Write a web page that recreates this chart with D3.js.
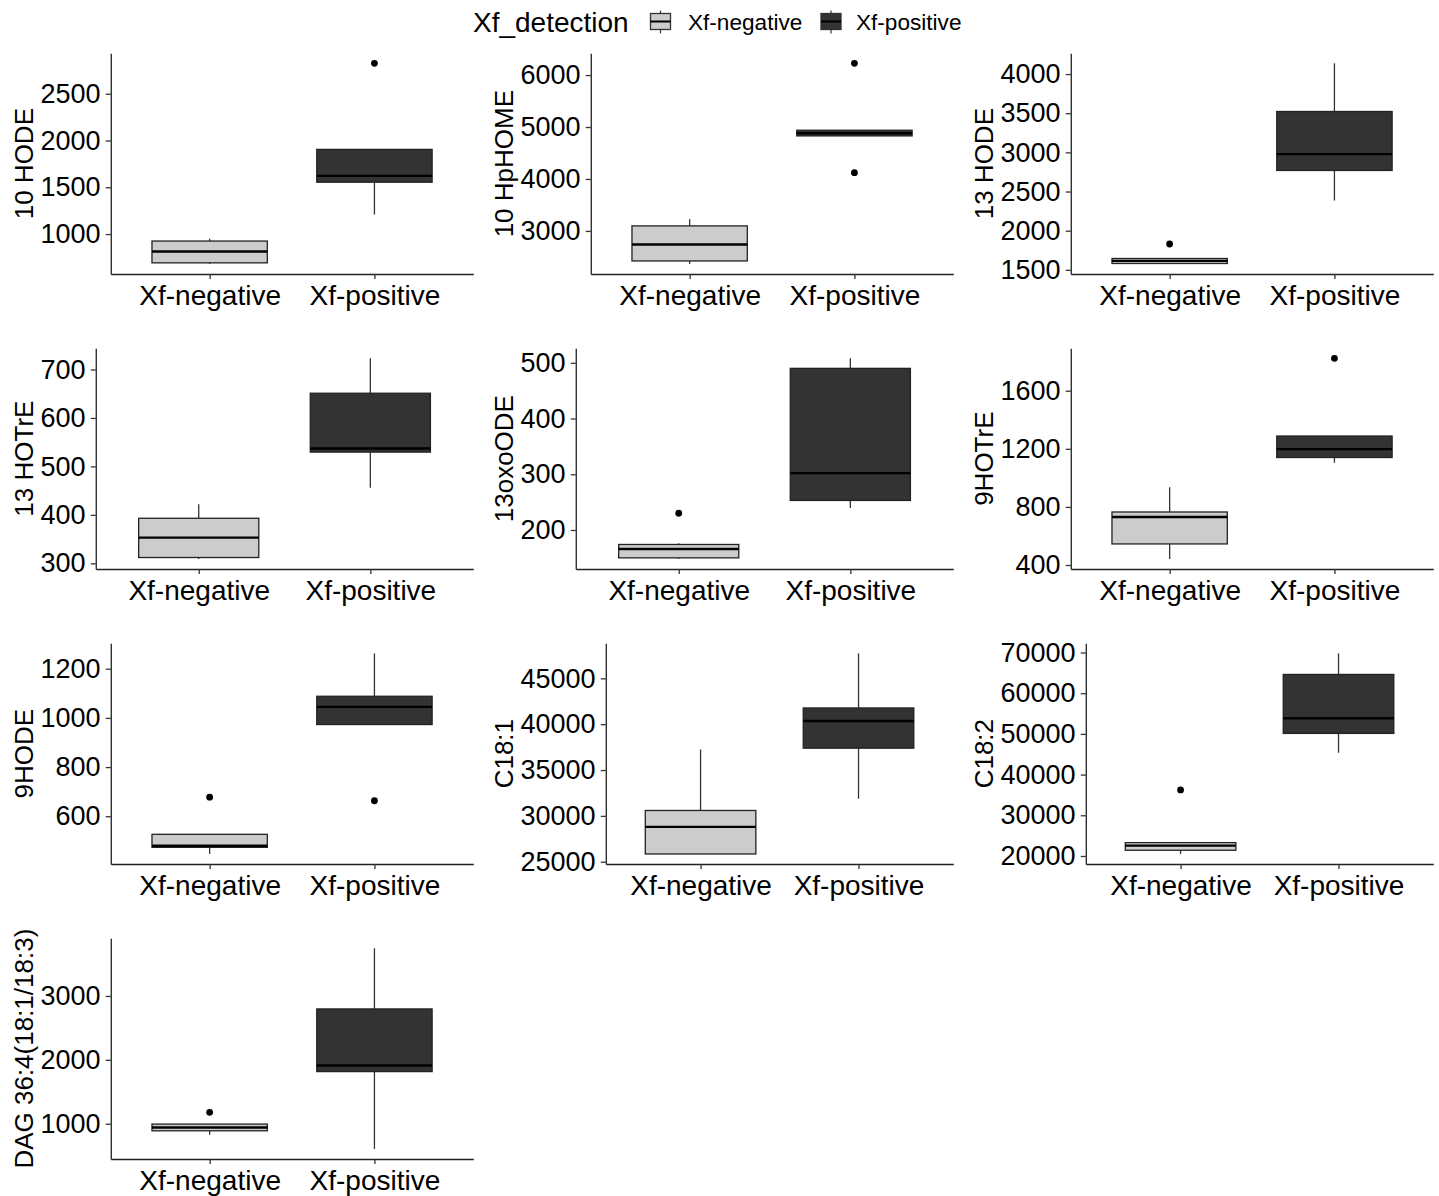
<!DOCTYPE html>
<html>
<head>
<meta charset="utf-8">
<script src="https://cdn.jsdelivr.net/npm/d3@7"></script>
<style>
  html, body { margin: 0; padding: 0; background: #fff; }
  svg { display: block; font-family: "Liberation Sans", Arial, sans-serif; }
</style>
</head>
<body>
<svg id="chart" width="1439" height="1196"></svg>
<script>
// Oxylipin / lipid abundances by Xf detection status
const analytes = ["10 HODE", "10 HpHOME", "13 HODE", "13 HOTrE", "13oxoODE",
                  "9HOTrE", "9HODE", "C18:1", "C18:2", "DAG 36:4(18:1/18:3)"];
const groups = ["Xf-negative", "Xf-positive"];

// Box statistics per analyte: [lower whisker, Q1, median, Q3, upper whisker]
const negStats = [
  [680, 692, 814, 925, 950],
  [2364, 2422, 2739, 3097, 3226],
  [1575, 1581, 1615, 1645, 1650],
  [309, 312, 353, 393, 422],
  [148, 150, 166, 174, 176],
  [441.5, 545, 730, 765, 935],
  [446.6, 473.5, 480, 526.5, 526.5],
  [25845, 25845, 28800, 30590, 37240],
  [20490, 21400, 22540, 23280, 23280],
  [826, 889, 941.5, 994, 994]
];
const posStats = [
  [1209, 1554, 1622, 1905, 1905],
  [4829, 4829, 4880, 4938, 4938],
  [2385, 2769, 2978, 3522, 4137],
  [456, 529.5, 537, 651, 723],
  [239.5, 253, 302, 490, 508],
  [1104, 1140, 1198, 1288, 1288],
  [973, 973, 1045, 1088, 1262.6],
  [31870, 37385, 40345, 41770, 47730],
  [45360, 50120, 53830, 64610, 69800],
  [604.5, 1816, 1911, 2797, 3746]
];
// Points beyond the whiskers
const negOutliers = [[], [], [1830], [], [230], [], [677.5], [], [36220], [1179]];
const posOutliers = [[2825], [4121, 6226], [], [], [], [1823], [663], [], [], []];

// Y-axis tick labels per analyte
const yTicks = [
  [1000, 1500, 2000, 2500],
  [3000, 4000, 5000, 6000],
  [1500, 2000, 2500, 3000, 3500, 4000],
  [300, 400, 500, 600, 700],
  [200, 300, 400, 500],
  [400, 800, 1200, 1600],
  [600, 800, 1000, 1200],
  [25000, 30000, 35000, 40000, 45000],
  [20000, 30000, 40000, 50000, 60000, 70000],
  [1000, 2000, 3000]
];

const fills = { "Xf-negative": "#cccccc", "Xf-positive": "#333333" };

const svg = d3.select("#chart");

// ---- legend ----
const legend = svg.append("g");
legend.append("text").attr("x", 473).attr("y", 32)
  .attr("font-size", 28).attr("fill", "#000").text("Xf_detection");
const keyX = [660.5, 831];
const labelX = [688, 856];
groups.forEach((g, i) => {
  const k = legend.append("g");
  const cx = keyX[i];
  k.append("line").attr("x1", cx).attr("x2", cx).attr("y1", 10.5).attr("y2", 33.5)
    .attr("stroke", "#333").attr("stroke-width", 1.2);
  k.append("rect").attr("x", cx - 10).attr("y", 13.5).attr("width", 20).attr("height", 16)
    .attr("fill", fills[g]).attr("stroke", "#333").attr("stroke-width", 1.3);
  k.append("line").attr("x1", cx - 10).attr("x2", cx + 10).attr("y1", 21.5).attr("y2", 21.5)
    .attr("stroke", "#000").attr("stroke-width", 2);
  legend.append("text").attr("x", labelX[i]).attr("y", 30)
    .attr("font-size", 22.6).attr("fill", "#000").text(g);
});

// ---- panels ----
const cellW = 480, rowStep = 295;
const tickFont = 27, xFont = 28, titleFont = 26;

// measure label widths to place the y-axis like a ggplot panel
const measurer = svg.append("text").attr("font-size", tickFont).attr("opacity", 0);
function textWidth(s) { measurer.text(s); return measurer.node().getComputedTextLength(); }

analytes.forEach((name, i) => {
  const col = i % 3, row = Math.floor(i / 3);
  const cellLeft = col * cellW;
  const bottom = 274 + rowStep * row;
  const top = bottom - 220.7;
  const right = cellLeft + 473.3;
  const maxW = d3.max(yTicks[i], t => textWidth(String(t)));
  const left = cellLeft + 40.5 + maxW + 10.2;

  const allVals = negStats[i].concat(posStats[i], negOutliers[i], posOutliers[i]);
  const lo = d3.min(allVals), hi = d3.max(allVals), pad = (hi - lo) * 0.05;
  const y = d3.scaleLinear().domain([lo - pad, hi + pad]).range([bottom, top]);
  const x = d3.scalePoint().domain(groups).range([left, right]).padding(0.6);
  const boxW = x.step() * 0.7;

  const g = svg.append("g");

  // boxes
  const series = [
    { grp: groups[0], s: negStats[i], out: negOutliers[i] },
    { grp: groups[1], s: posStats[i], out: posOutliers[i] }
  ];
  series.forEach(d => {
    const cx = x(d.grp);
    const [wl, q1, med, q3, wh] = d.s;
    const bg = g.append("g");
    bg.append("line").attr("x1", cx).attr("x2", cx).attr("y1", y(q3)).attr("y2", y(wh))
      .attr("stroke", "#333").attr("stroke-width", 1.3);
    bg.append("line").attr("x1", cx).attr("x2", cx).attr("y1", y(q1)).attr("y2", y(wl))
      .attr("stroke", "#333").attr("stroke-width", 1.3);
    bg.append("rect").attr("x", cx - boxW / 2).attr("width", boxW)
      .attr("y", y(q3)).attr("height", Math.max(0, y(q1) - y(q3)))
      .attr("fill", fills[d.grp]).attr("stroke", "#222").attr("stroke-width", 1.3);
    bg.append("line").attr("x1", cx - boxW / 2).attr("x2", cx + boxW / 2)
      .attr("y1", y(med)).attr("y2", y(med))
      .attr("stroke", "#000").attr("stroke-width", 2.4);
    bg.selectAll("circle").data(d.out).join("circle")
      .attr("cx", cx).attr("cy", v => y(v)).attr("r", 3.4).attr("fill", "#000");
  });

  // y axis
  const ya = g.append("g").attr("transform", `translate(${left},0)`)
    .call(d3.axisLeft(y).tickValues(yTicks[i]).tickFormat(d3.format("d"))
      .tickSize(5).tickSizeOuter(0).tickPadding(5.2));
  ya.select(".domain").attr("stroke", "#222").attr("stroke-width", 1.3);
  ya.selectAll(".tick line").attr("stroke", "#333").attr("stroke-width", 1.3);
  ya.selectAll(".tick text").attr("font-size", tickFont).attr("fill", "#000")
    .attr("font-family", "Liberation Sans, Arial, sans-serif");

  // x axis
  const xa = g.append("g").attr("transform", `translate(0,${bottom})`)
    .call(d3.axisBottom(x).tickSize(5).tickSizeOuter(0).tickPadding(4));
  xa.select(".domain").attr("stroke", "#222").attr("stroke-width", 1.3);
  xa.selectAll(".tick line").attr("stroke", "#333").attr("stroke-width", 1.3);
  xa.selectAll(".tick text").attr("font-size", xFont).attr("fill", "#000")
    .attr("dy", null).attr("y", 31).attr("dominant-baseline", "alphabetic")
    .attr("font-family", "Liberation Sans, Arial, sans-serif");

  // y title
  g.append("text")
    .attr("transform", `translate(${cellLeft + 33},${(top + bottom) / 2}) rotate(-90)`)
    .attr("text-anchor", "middle").attr("font-size", titleFont).attr("fill", "#000")
    .text(name);
});
measurer.remove();
</script>
</body>
</html>
